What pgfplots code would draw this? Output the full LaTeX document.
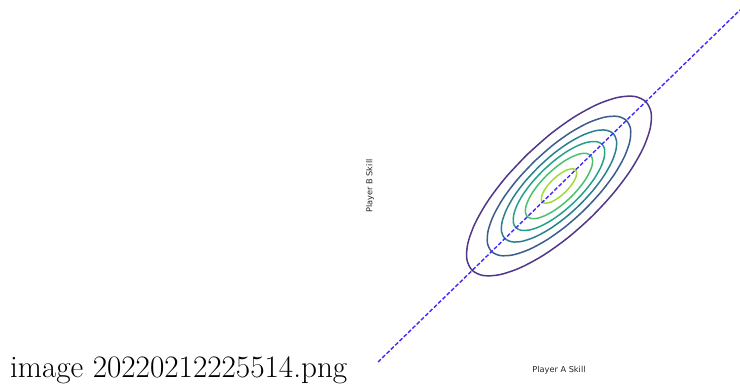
\documentclass[border=0pt]{standalone}
\usepackage{fontspec}
\usepackage{pgfplots}
\pgfplotsset{compat=1.18}
\newfontfamily\dejavu{DejaVu Sans}
\definecolor{v1}{RGB}{80,55,135}
\definecolor{v2}{RGB}{59,92,141}
\definecolor{v3}{RGB}{42,127,142}
\definecolor{v4}{RGB}{34,161,135}
\definecolor{v5}{RGB}{74,193,109}
\definecolor{v6}{RGB}{160,218,57}
\definecolor{diag}{RGB}{64,40,255}
\begin{document}
\begin{tikzpicture}
\useasboundingbox (-378pt,-23pt) rectangle (362pt,362pt);
\begin{axis}[
  scale only axis, width=362pt, height=352pt,
  xmin=-3, xmax=3, ymin=-3, ymax=3,
  axis line style={draw=none}, ticks=none, clip=false,
  xlabel={Player A Skill},
  label style={font=\dejavu\fontsize{8.2}{9}\selectfont, text=black!85, inner sep=0pt},
  xlabel style={at={(rel axis cs:0.5,0)}, anchor=center, yshift=-8pt},
]
\addplot[v1, line width=1.5pt, smooth] coordinates {
(-0.532,0.532) (-0.886,0.142) (-1.180,-0.258) (-1.393,-0.641) (-1.511,-0.979) (-1.527,-1.251)
(-1.438,-1.438) (-1.251,-1.527) (-0.979,-1.511) (-0.641,-1.393) (-0.258,-1.180) (0.142,-0.886)
(0.532,-0.532) (0.886,-0.142) (1.180,0.258) (1.393,0.641) (1.511,0.979) (1.527,1.251)
(1.438,1.438) (1.251,1.527) (0.979,1.511) (0.641,1.393) (0.258,1.180) (-0.142,0.886)
(-0.532,0.532)};
\addplot[v2, line width=1.5pt, smooth] coordinates {
(-0.414,0.414) (-0.689,0.111) (-0.918,-0.200) (-1.083,-0.497) (-1.174,-0.760) (-1.186,-0.972)
(-1.117,-1.117) (-0.972,-1.186) (-0.760,-1.174) (-0.497,-1.083) (-0.200,-0.918) (0.111,-0.689)
(0.414,-0.414) (0.689,-0.111) (0.918,0.200) (1.083,0.497) (1.174,0.760) (1.186,0.972)
(1.117,1.117) (0.972,1.186) (0.760,1.174) (0.497,1.083) (0.200,0.918) (-0.111,0.689)
(-0.414,0.414)};
\addplot[v3, line width=1.5pt, smooth] coordinates {
(-0.332,0.332) (-0.553,0.089) (-0.737,-0.161) (-0.869,-0.399) (-0.943,-0.611) (-0.952,-0.780)
(-0.897,-0.897) (-0.780,-0.952) (-0.611,-0.943) (-0.399,-0.869) (-0.161,-0.737) (0.089,-0.553)
(0.332,-0.332) (0.553,-0.089) (0.737,0.161) (0.869,0.399) (0.943,0.611) (0.952,0.780)
(0.897,0.897) (0.780,0.952) (0.611,0.943) (0.399,0.869) (0.161,0.737) (-0.089,0.553)
(-0.332,0.332)};
\addplot[v4, line width=1.5pt, smooth] coordinates {
(-0.264,0.264) (-0.440,0.070) (-0.586,-0.128) (-0.691,-0.317) (-0.749,-0.485) (-0.757,-0.621)
(-0.713,-0.713) (-0.621,-0.757) (-0.485,-0.749) (-0.317,-0.691) (-0.128,-0.586) (0.070,-0.440)
(0.264,-0.264) (0.440,-0.070) (0.586,0.128) (0.691,0.317) (0.749,0.485) (0.757,0.621)
(0.713,0.713) (0.621,0.757) (0.485,0.749) (0.317,0.691) (0.128,0.586) (-0.070,0.440)
(-0.264,0.264)};
\addplot[v5, line width=1.5pt, smooth] coordinates {
(-0.193,0.193) (-0.321,0.051) (-0.429,-0.095) (-0.506,-0.234) (-0.550,-0.356) (-0.555,-0.455)
(-0.523,-0.523) (-0.455,-0.555) (-0.356,-0.550) (-0.234,-0.506) (-0.095,-0.429) (0.051,-0.321)
(0.193,-0.193) (0.321,-0.051) (0.429,0.095) (0.506,0.234) (0.550,0.356) (0.555,0.455)
(0.523,0.523) (0.455,0.555) (0.356,0.550) (0.234,0.506) (0.095,0.429) (-0.051,0.321)
(-0.193,0.193)};
\addplot[v6, line width=1.5pt, smooth] coordinates {
(-0.104,0.104) (-0.171,0.029) (-0.227,-0.047) (-0.268,-0.120) (-0.289,-0.185) (-0.292,-0.238)
(-0.274,-0.274) (-0.238,-0.292) (-0.185,-0.289) (-0.120,-0.268) (-0.047,-0.227) (0.029,-0.171)
(0.104,-0.104) (0.171,-0.029) (0.227,0.047) (0.268,0.120) (0.289,0.185) (0.292,0.238)
(0.274,0.274) (0.238,0.292) (0.185,0.289) (0.120,0.268) (0.047,0.227) (-0.029,0.171)
(-0.104,0.104)};
\addplot[diag, line width=1.4pt, dash pattern=on 4pt off 2pt] coordinates {(-3,-3) (3,3)};
\end{axis}
\node[rotate=90, anchor=center, inner sep=0pt, text=black!85, font=\dejavu\fontsize{8.2}{9}\selectfont] at (-8pt,176pt) {Player B Skill};
\node[anchor=base west, inner sep=0pt, font=\fontsize{31.2}{36}\selectfont] at (-368pt,-16pt) {image 20220212225514.png};
\end{tikzpicture}
\end{document}
